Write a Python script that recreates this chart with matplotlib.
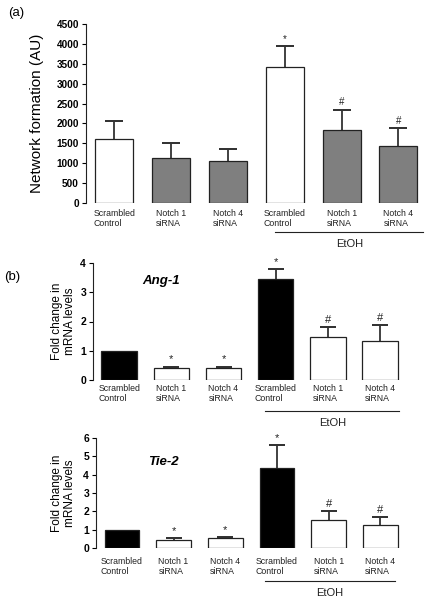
import matplotlib
matplotlib.use("Agg")
import matplotlib.pyplot as plt
from matplotlib import transforms

plt.rcParams['font.family'] = ['Liberation Sans', 'DejaVu Sans']

# ---------------- data ----------------
categories = ["Scrambled\nControl", "Notch 1\nsiRNA", "Notch 4\nsiRNA",
              "Scrambled\nControl", "Notch 1\nsiRNA", "Notch 4\nsiRNA"]
group_label = "EtOH"

net_mean = [1620, 1120, 1050, 3430, 1840, 1430]
net_err = [440, 380, 320, 520, 510, 460]
net_marks = ["", "", "", "*", "#", "#"]
net_ticks = [0, 500, 1000, 1500, 2000, 2500, 3000, 3500, 4000, 4500]

ang_mean = [1.0, 0.41, 0.42, 3.46, 1.46, 1.33]
ang_err = [0.0, 0.05, 0.04, 0.33, 0.36, 0.55]
ang_marks = ["", "*", "*", "*", "#", "#"]
ang_ticks = [0, 1, 2, 3, 4]

tie_mean = [1.0, 0.44, 0.55, 4.35, 1.53, 1.25]
tie_err = [0.0, 0.08, 0.06, 1.28, 0.50, 0.45]
tie_marks = ["", "*", "*", "*", "#", "#"]
tie_ticks = [0, 1, 2, 3, 4, 5, 6]

W, H = 432, 600
fig = plt.figure(figsize=(W / 100, H / 100), dpi=100)


def add_axes_px(left, top, right, bottom):
    return fig.add_axes([left / W, 1 - bottom / H, (right - left) / W, (bottom - top) / H])


def draw_panel(ax, means, errs, marks, colors, ticks, width, capsize, xright,
               tick_fs, cat_fs, cat_pad, mark_fs, line_x, line_pad, etoh_pad, ylim):
    x = list(range(len(means)))
    ax.bar(x, means, width=width, color=colors, edgecolor='#222222', linewidth=0.9,
           zorder=3)
    tops = [m + e for m, e in zip(means, errs)]
    for xi, m, t, e in zip(x, means, tops, errs):
        if e > 0:
            ax.vlines(xi, m, t, colors='#333333', linewidth=1.3, zorder=2)
            ax.errorbar([xi], [t], yerr=[[0], [0]], fmt='none', ecolor='#333333',
                        elinewidth=1.3, capsize=capsize, capthick=1.3, zorder=2)
    ax.set_xlim(-0.5, xright)
    ax.set_ylim(*ylim)
    ax.set_yticks(ticks)
    ax.set_yticklabels([str(t) for t in ticks], fontsize=tick_fs, fontweight='bold')
    ax.tick_params(axis='y', direction='out', length=3, width=0.8, pad=2)
    ax.set_xticks([])
    for s in ['top', 'right', 'bottom']:
        ax.spines[s].set_visible(False)
    ax.spines['left'].set_linewidth(0.8)
    ax.spines['left'].set_color('#222222')
    ax.patch.set_visible(False)
    for i, (t, mk) in enumerate(zip(tops, marks)):
        if mk:
            ax.annotate(mk, xy=(i, t), xytext=(0, 1.5), textcoords='offset points',
                        ha='center', va='bottom', fontsize=mark_fs, color='#222222')
        ax.annotate(categories[i], xy=(i, 0), xycoords=('data', 'axes fraction'),
                    xytext=(0, -cat_pad), textcoords='offset points',
                    ha='center', va='top', multialignment='left',
                    fontsize=cat_fs, color='#222222', linespacing=1.15)
    trans = transforms.blended_transform_factory(ax.transData, ax.transAxes)
    off = transforms.offset_copy(trans, fig=fig, x=0, y=-line_pad, units='points')
    ax.plot(line_x, [0, 0], transform=off, color='#222222', lw=0.8, clip_on=False)
    off2 = transforms.offset_copy(trans, fig=fig, x=0, y=-etoh_pad, units='points')
    ax.text(sum(line_x) / 2, 0, group_label, transform=off2, ha='center', va='top',
            fontsize=8, color='#222222')


# ---------------- panel (a) ----------------
ax_a = add_axes_px(86, 24, 424, 203)
draw_panel(ax_a, net_mean, net_err, net_marks,
           ['white', '#7f7f7f', '#7f7f7f', 'white', '#7f7f7f', '#7f7f7f'],
           net_ticks, 0.67, 6.5, 5.45, 7.2, 6.3, 4.5, 7, (2.83, 5.44), 21, 26,
           (0, 4500))
ax_a.set_ylabel("Network formation (AU)", fontsize=11, labelpad=9)
fig.text(8 / W, 1 - 13 / H, "(a)", fontsize=9.5, va='center', ha='left')

# ---------------- panel (b) Ang-1 ----------------
ax_b1 = add_axes_px(93, 263, 401, 380)
draw_panel(ax_b1, ang_mean, ang_err, ang_marks,
           ['black', 'white', 'white', 'black', 'white', 'white'],
           ang_ticks, 0.68, 5.5, 5.4, 7.5, 6.3, 3.2, 8, (2.80, 5.37), 22, 27,
           (0, 4))
ax_b1.set_ylabel("Fold change in\nmRNA levels", fontsize=8.5, labelpad=3,
                 linespacing=1.1)
ax_b1.text(0.22, 0.85, "Ang-1", transform=ax_b1.transAxes, fontsize=9.5,
           fontweight='bold', fontstyle='italic', ha='center', va='center')
fig.text(4 / W, 1 - 277 / H, "(b)", fontsize=9.5, va='center', ha='left')

# ---------------- panel (b) Tie-2 ----------------
ax_b2 = add_axes_px(96, 438, 401, 548)
draw_panel(ax_b2, tie_mean, tie_err, tie_marks,
           ['black', 'white', 'white', 'black', 'white', 'white'],
           tie_ticks, 0.67, 5.5, 5.4, 7.5, 6.3, 6.3, 8, (2.77, 5.29), 24, 29,
           (0, 6))
ax_b2.set_ylabel("Fold change in\nmRNA levels", fontsize=8.5, labelpad=5,
                 linespacing=1.1)
ax_b2.text(0.22, 0.78, "Tie-2", transform=ax_b2.transAxes, fontsize=9.5,
           fontweight='bold', fontstyle='italic', ha='center', va='center')

fig.savefig("out.png", dpi=100)
